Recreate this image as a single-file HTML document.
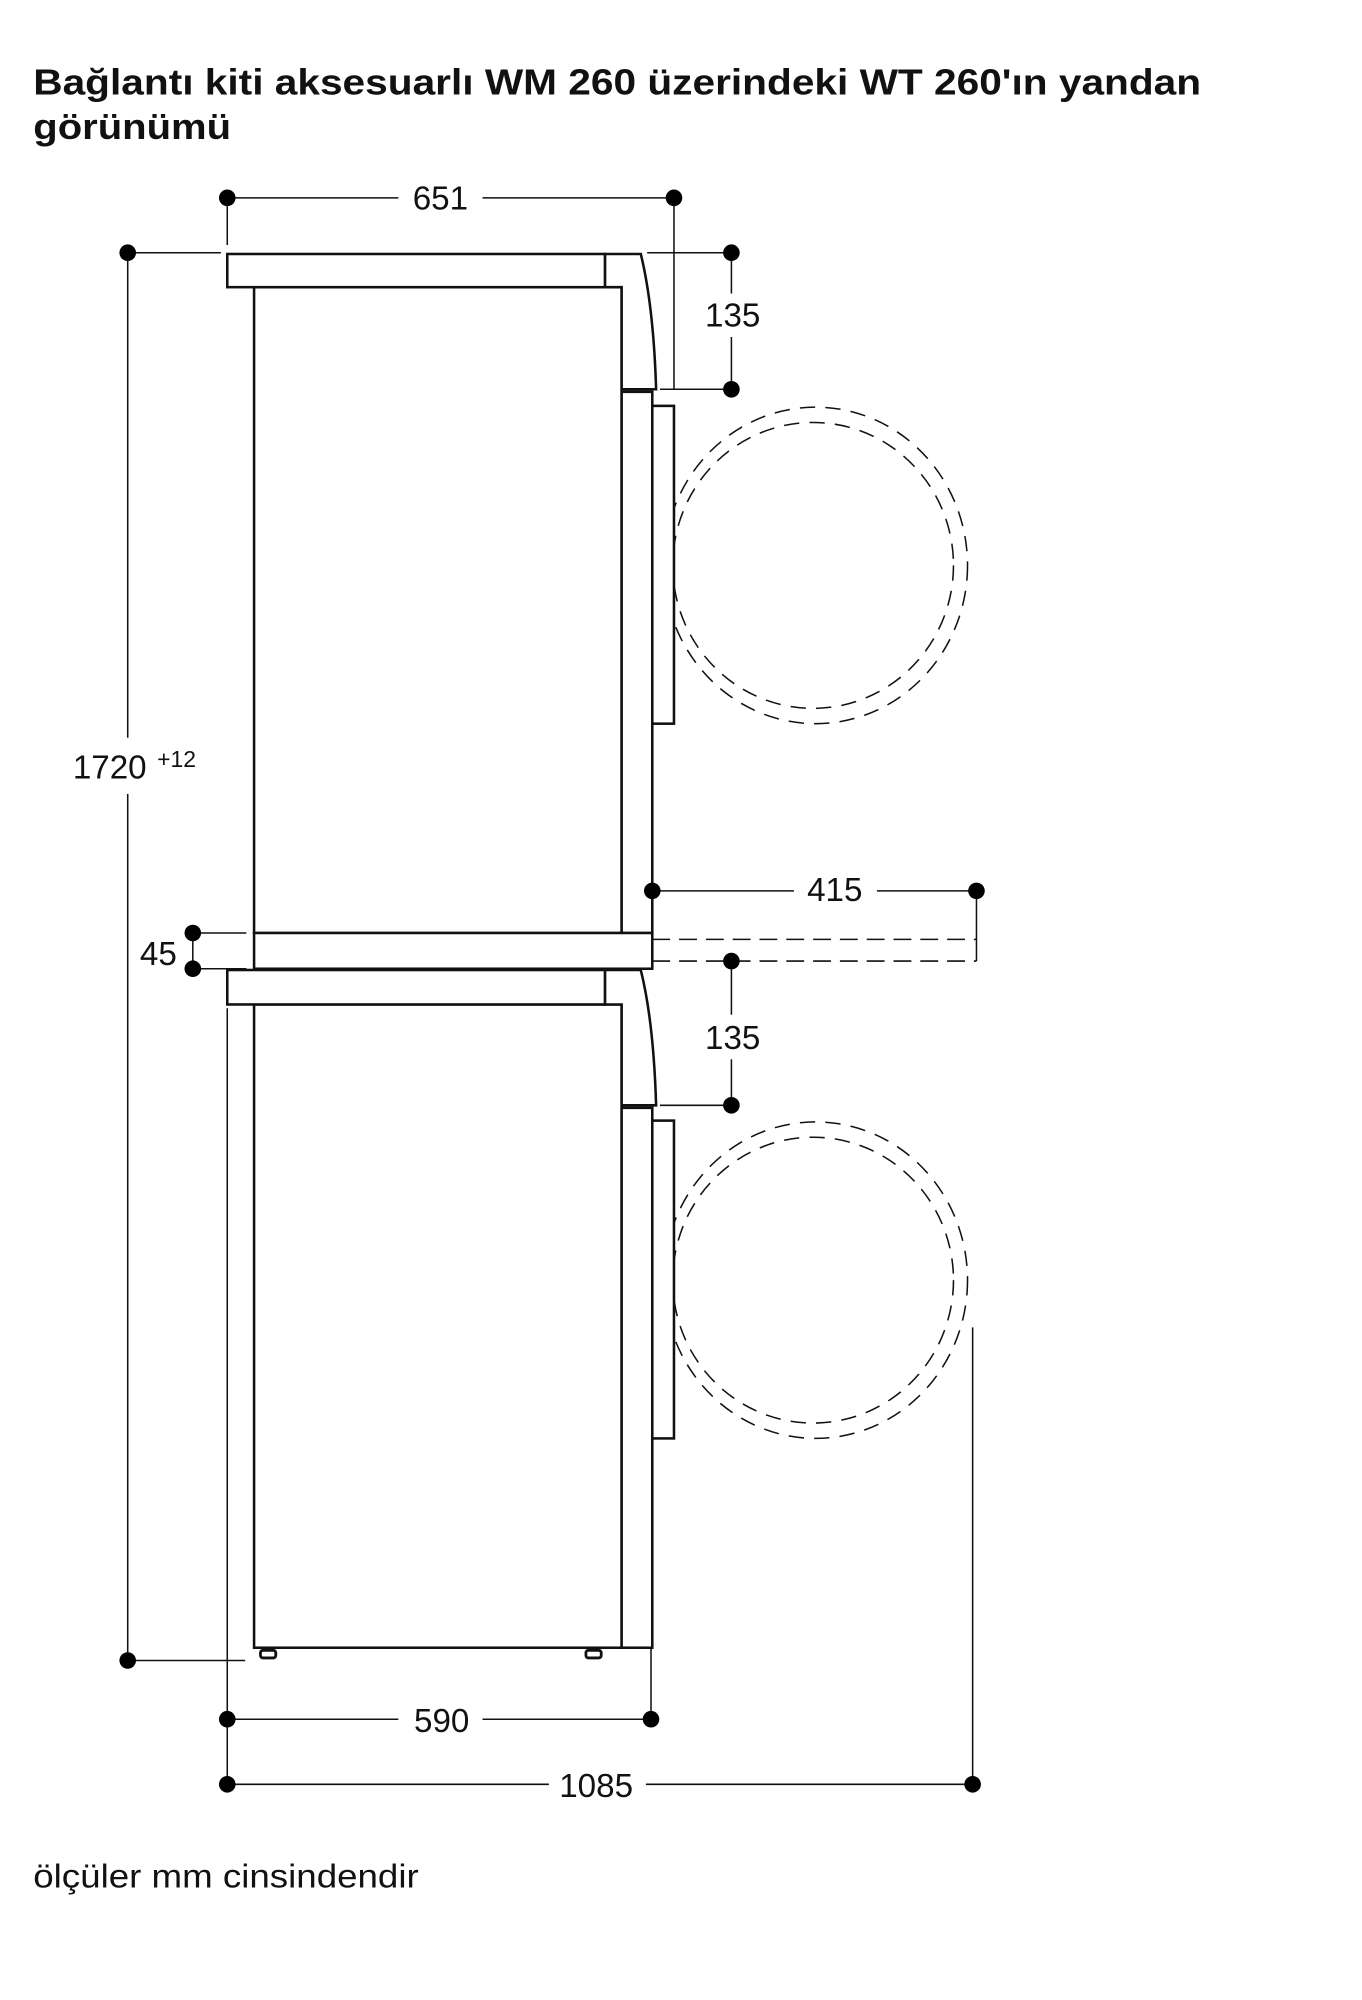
<!DOCTYPE html>
<html><head><meta charset="utf-8"><style>
html,body{margin:0;padding:0;background:#fff;}
svg{display:block;}
text{font-family:"Liberation Sans",sans-serif;fill:#111;}
</style></head><body>
<svg width="1362" height="2000" viewBox="0 0 1067 1567" xmlns="http://www.w3.org/2000/svg">
<text x="26" y="74" font-size="28" font-weight="bold" textLength="915" lengthAdjust="spacingAndGlyphs">Bağlantı kiti aksesuarlı WM 260 üzerindeki WT 260'ın yandan</text>
<text x="26" y="109" font-size="28" font-weight="bold" textLength="155" lengthAdjust="spacingAndGlyphs">görünümü</text>

<g stroke="#111" fill="none" stroke-width="1.2">
<line x1="178" y1="155" x2="312" y2="155"/><line x1="378" y1="155" x2="528" y2="155"/>
<line x1="178" y1="155" x2="178" y2="192"/><line x1="528" y1="155" x2="528" y2="305"/>
<line x1="100" y1="198" x2="173" y2="198"/>
<line x1="100" y1="198" x2="100" y2="578"/><line x1="100" y1="622" x2="100" y2="1301"/>
<line x1="100" y1="1301" x2="192" y2="1301"/>
<line x1="507" y1="198" x2="573" y2="198"/><line x1="517" y1="305" x2="573" y2="305"/>
<line x1="573" y1="198" x2="573" y2="230"/><line x1="573" y1="264" x2="573" y2="305"/>
<line x1="151" y1="731" x2="193" y2="731"/><line x1="151" y1="759" x2="193" y2="759"/>
<line x1="151" y1="731" x2="151" y2="759"/>
<line x1="511" y1="698" x2="622" y2="698"/><line x1="687" y1="698" x2="765" y2="698"/>
<line x1="765" y1="698" x2="765" y2="753"/>
<line x1="511" y1="736" x2="765" y2="736" stroke-dasharray="14,7"/>
<line x1="511" y1="753" x2="765" y2="753" stroke-dasharray="14,7"/>
<line x1="573" y1="753" x2="573" y2="795"/><line x1="573" y1="830" x2="573" y2="866"/>
<line x1="517" y1="866" x2="573" y2="866"/>
<line x1="178" y1="790" x2="178" y2="1398"/>
<line x1="510" y1="1291" x2="510" y2="1347"/>
<line x1="178" y1="1347" x2="312" y2="1347"/><line x1="378" y1="1347" x2="510" y2="1347"/>
<line x1="762" y1="1040" x2="762" y2="1398"/>
<line x1="178" y1="1398" x2="430" y2="1398"/><line x1="506" y1="1398" x2="762" y2="1398"/>
<ellipse cx="639" cy="443" rx="119" ry="124" stroke-dasharray="12,8"/>
<ellipse cx="637" cy="443" rx="110" ry="112" stroke-dasharray="12,8"/>
<ellipse cx="639" cy="1003" rx="119" ry="124" stroke-dasharray="12,8"/>
<ellipse cx="637" cy="1003" rx="110" ry="112" stroke-dasharray="12,8"/>
</g>

<g stroke="#111" fill="#fff" stroke-width="2">
<rect x="199" y="225" width="288" height="506"/>
<rect x="178" y="199" width="296" height="26"/>
<path d="M474 199 L502 199 Q512 240 514 305 L487 305 L487 225 L474 225 Z"/>
<rect x="487" y="307" width="24" height="424"/>
<rect x="511" y="318" width="17" height="249"/>
<rect x="199" y="731" width="312" height="28"/>
<rect x="199" y="787" width="288" height="504"/>
<rect x="178" y="760" width="296" height="27"/>
<path d="M474 760 L502 760 Q512 800 514 866 L487 866 L487 787 L474 787 Z"/>
<rect x="487" y="868" width="24" height="423"/>
<rect x="511" y="878" width="17" height="249"/>
<rect x="204" y="1293" width="12" height="6" rx="2" stroke-width="2.2"/>
<rect x="459" y="1293" width="12" height="6" rx="2" stroke-width="2.2"/>
</g>

<g fill="#000">
<circle cx="178" cy="155" r="6.5"/><circle cx="528" cy="155" r="6.5"/>
<circle cx="100" cy="198" r="6.5"/><circle cx="100" cy="1301" r="6.5"/>
<circle cx="573" cy="198" r="6.5"/><circle cx="573" cy="305" r="6.5"/>
<circle cx="151" cy="731" r="6.5"/><circle cx="151" cy="759" r="6.5"/>
<circle cx="511" cy="698" r="6.5"/><circle cx="765" cy="698" r="6.5"/>
<circle cx="573" cy="753" r="6.5"/><circle cx="573" cy="866" r="6.5"/>
<circle cx="178" cy="1347" r="6.5"/><circle cx="510" cy="1347" r="6.5"/>
<circle cx="178" cy="1398" r="6.5"/><circle cx="762" cy="1398" r="6.5"/>
</g>

<g font-size="26">
<text x="345" y="164" text-anchor="middle">651</text>
<text x="574" y="256" text-anchor="middle">135</text>
<text x="57" y="610">1720</text>
<text x="123" y="601" font-size="18">+12</text>
<text x="124" y="756" text-anchor="middle">45</text>
<text x="654" y="706" text-anchor="middle">415</text>
<text x="574" y="822" text-anchor="middle">135</text>
<text x="346" y="1357" text-anchor="middle">590</text>
<text x="467" y="1408" text-anchor="middle">1085</text>
<text x="26" y="1479" textLength="302" lengthAdjust="spacingAndGlyphs">ölçüler mm cinsindendir</text>
</g>
</svg>
</body></html>
